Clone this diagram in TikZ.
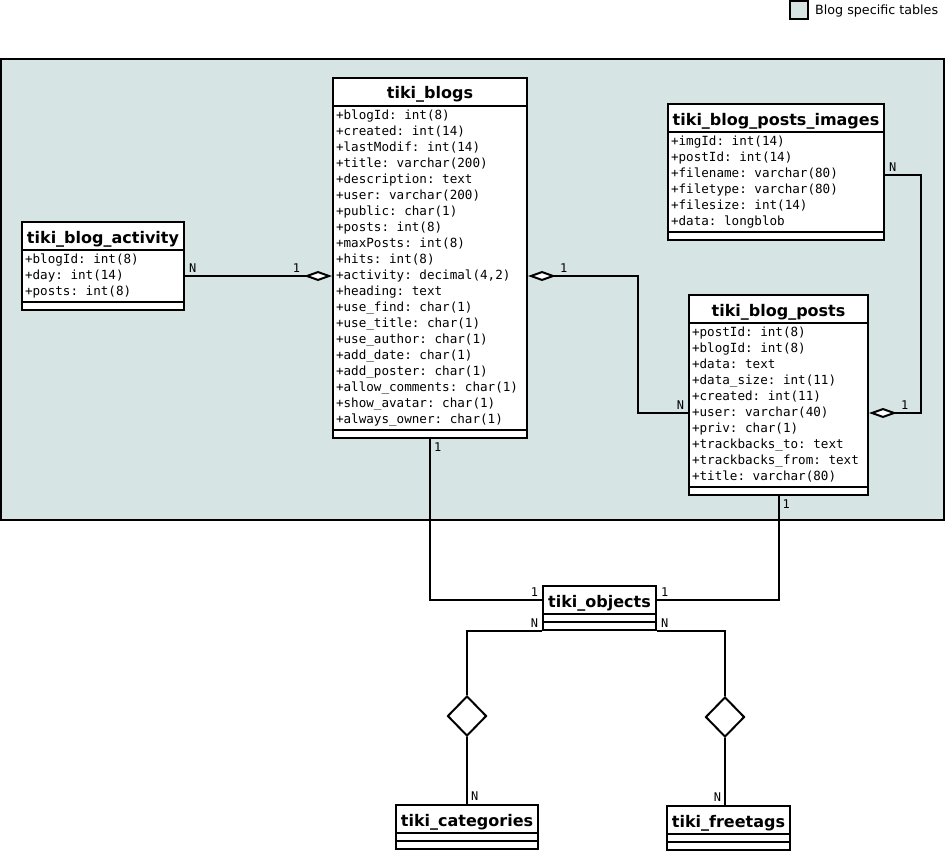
\documentclass[tikz,border=0pt]{standalone}
\usepackage{fontspec}
\setmainfont{DejaVu Sans}
\setmonofont{DejaVu Sans Mono}
\usetikzlibrary{shapes.multipart,shapes.geometric,arrows.meta,positioning}
\definecolor{blogbg}{RGB}{215,228,228}
\newcommand{\tabtitle}[1]{{\fontsize{16}{19}\selectfont\rmfamily\bfseries\rule[-5pt]{0pt}{24pt}#1}}
\newcommand{\fields}[1]{\begin{tabular}{@{}l@{}}#1\end{tabular}}
\newcommand{\noattr}{\rule{0pt}{4pt}}
\tikzset{
    dbtable/.style={
           rectangle split,
           rectangle split parts=3,
           rectangle split part align={center,left,left},
           draw=black, line width=2pt,
           fill=white,
           inner xsep=3pt, inner ysep=1pt,
           anchor=north west,
           font=\fontsize{12.6}{16}\selectfont\ttfamily
           },
    link/.style={
           draw=black, line width=2pt
           },
    hasmany/.style={
           link, {Diamond[fill=white,length=28pt,width=10pt]}-
           },
    ownedby/.style={
           link, -{Diamond[fill=white,length=28pt,width=10pt]}
           },
    card/.style={
           % font=\tiny,
           inner sep=3pt,
           font=\fontsize{12}{14}\selectfont\ttfamily
           },
    assoc/.style={
           diamond,
           draw=black, line width=2pt,
           fill=white,
           inner sep=0pt,
           minimum width=39pt,
           minimum height=40pt
           },
    legendbox/.style={
           draw=black, line width=2pt,
           fill=blogbg,
           minimum size=18pt,
           inner sep=0pt
           }
}

\begin{document}
\begin{tikzpicture}[x=1pt,y=-1pt]
\useasboundingbox (0,0) rectangle (946,851);
% blog specific area and legend
\draw[draw=black, line width=2pt, fill=blogbg] (1,59) rectangle (944,520);
\node[legendbox] (key) at (799,10.5) {};
\node[right=6pt of key, inner sep=0pt, font=\fontsize{12.7}{15}\selectfont] (keytext) {Blog specific tables};

% tables
\node[dbtable, minimum width=162pt] (act) at (21,221) {\tabtitle{tiki\_blog\_activity}\nodepart{two}\fields{%
+blogId: int(8)\\
+day: int(14)\\
+posts: int(8)}\nodepart{three}\noattr};
\node[dbtable, minimum width=194pt] (blogs) at (332,77) {\tabtitle{tiki\_blogs}\nodepart{two}\fields{%
+blogId: int(8)\\
+created: int(14)\\
+lastModif: int(14)\\
+title: varchar(200)\\
+description: text\\
+user: varchar(200)\\
+public: char(1)\\
+posts: int(8)\\
+maxPosts: int(8)\\
+hits: int(8)\\
+activity: decimal(4,2)\\
+heading: text\\
+use\_find: char(1)\\
+use\_title: char(1)\\
+use\_author: char(1)\\
+add\_date: char(1)\\
+add\_poster: char(1)\\
+allow\_comments: char(1)\\
+show\_avatar: char(1)\\
+always\_owner: char(1)}\nodepart{three}\noattr};
\node[dbtable, minimum width=216pt] (imgs) at (667,103) {\tabtitle{tiki\_blog\_posts\_images}\nodepart{two}\fields{%
+imgId: int(14)\\
+postId: int(14)\\
+filename: varchar(80)\\
+filetype: varchar(80)\\
+filesize: int(14)\\
+data: longblob}\nodepart{three}\noattr};
\node[dbtable, minimum width=179pt] (posts) at (688,294) {\tabtitle{tiki\_blog\_posts}\nodepart{two}\fields{%
+postId: int(8)\\
+blogId: int(8)\\
+data: text\\
+data\_size: int(11)\\
+created: int(11)\\
+user: varchar(40)\\
+priv: char(1)\\
+trackbacks\_to: text\\
+trackbacks\_from: text\\
+title: varchar(80)}\nodepart{three}\noattr};
\node[dbtable, minimum width=113pt] (objs) at (542,585) {\tabtitle{tiki\_objects}\nodepart{two}\noattr\nodepart{three}\noattr};
\node[dbtable, minimum width=142pt] (cats) at (395,804) {\tabtitle{tiki\_categories}\nodepart{two}\noattr\nodepart{three}\noattr};
\node[dbtable, minimum width=123pt] (tags) at (666,805) {\tabtitle{tiki\_freetags}\nodepart{two}\noattr\nodepart{three}\noattr};
\node[assoc] (dia1) at (467,716) {};
\node[assoc] (dia2) at (725,717) {};

% relations
\coordinate (r1) at (0,276);
\coordinate (b2) at (638,413);
\coordinate (r3) at (0,175);
\coordinate (c2) at (921,413);
\coordinate (r4) at (0,600);
\draw[ownedby] (act.east |- r1) -- node[card, at start, anchor=south west] {N}
    node[card, at end, anchor=south east, xshift=-28pt] {1} (blogs.west |- r1);
\draw[hasmany] (blogs.east |- r1) -| node[card, at start, anchor=south west, xshift=28pt] {1} (b2)
    -- node[card, at end, anchor=south east] {N} (posts.west |- b2);
\draw[ownedby] (imgs.east |- r3) -| node[card, at start, anchor=south west] {N} (c2)
    -- node[card, at end, anchor=south west, xshift=28pt] {1} (posts.east |- c2);
\draw[link] (blogs.south) |- node[card, at start, anchor=north west] {1}
    node[card, at end, anchor=south east] {1} (objs.west |- r4);
\draw[link] (posts.south) |- node[card, at start, anchor=north west] {1}
    node[card, at end, anchor=south west] {1} (objs.east |- r4);
\draw[link] (objs.south west) -| node[card, at start, anchor=south east] {N} (dia1.north);
\draw[link] (dia1.south) -- node[card, at end, anchor=south west] {N} (dia1.south |- cats.north);
\draw[link] (objs.south east) -| node[card, at start, anchor=south west] {N} (dia2.north);
\draw[link] (dia2.south) -- node[card, at end, anchor=south east] {N} (dia2.south |- tags.north);
\end{tikzpicture}
\end{document}
